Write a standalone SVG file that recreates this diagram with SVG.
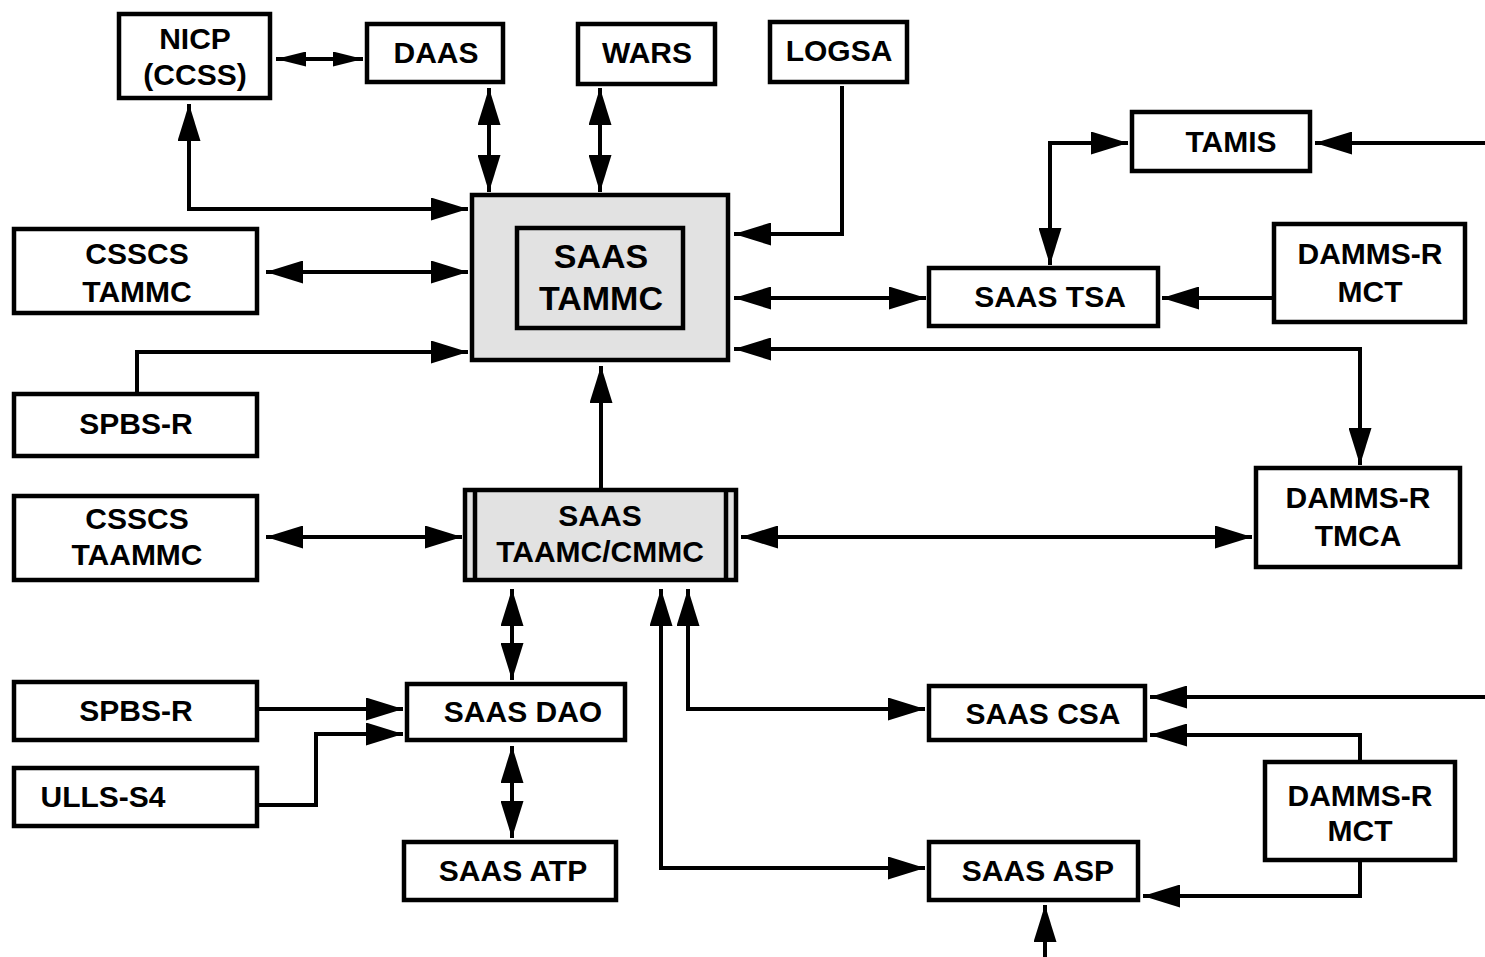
<svg xmlns="http://www.w3.org/2000/svg" width="1485" height="957" viewBox="0 0 1485 957">
<defs>
<style>
.box{fill:#fff;stroke:#000;stroke-width:4.5}
.gbox{fill:#e2e2e2;stroke:#000;stroke-width:4.5}
.t{font-family:"Liberation Sans",Arial,sans-serif;font-weight:bold;font-size:30px;fill:#000;text-anchor:middle}
.big{font-size:34px}
.c{fill:none;stroke:#000;stroke-width:4}
.a{marker-end:url(#ah)}
.b{marker-start:url(#ah);marker-end:url(#ah)}
</style>
<marker id="ah" markerUnits="userSpaceOnUse" markerWidth="37" markerHeight="23" refX="37" refY="11.5" orient="auto-start-reverse" viewBox="0 0 37 23">
<path d="M0,0 L37,11.5 L0,23 z" fill="#000"/>
</marker>
<marker id="ahs" markerUnits="userSpaceOnUse" markerWidth="30" markerHeight="15" refX="30" refY="7.5" orient="auto-start-reverse" viewBox="0 0 30 15">
<path d="M0,0 L30,7.5 L0,15 z" fill="#000"/>
</marker>
</defs>
<rect width="1485" height="957" fill="#fff"/>

<g id="connectors">
<path class="c" d="M276,59 L363,59" marker-start="url(#ahs)" marker-end="url(#ahs)"/>
<path class="c b" d="M489,88 L489,192"/>
<path class="c b" d="M600,88 L600,192"/>
<path class="c a" d="M842,86 L842,234 L734,234"/>
<path class="c b" d="M189,104 L189,209 L468,209"/>
<path class="c b" d="M266,272 L468,272"/>
<path class="c a" d="M137,392 L137,352 L468,352"/>
<path class="c b" d="M734,298 L926,298"/>
<path class="c b" d="M1128,143 L1050,143 L1050,265"/>
<path class="c a" d="M1485,143 L1315,143"/>
<path class="c a" d="M1272,298 L1162,298"/>
<path class="c b" d="M734,349 L1360,349 L1360,465"/>
<path class="c a" d="M601,488 L601,366"/>
<path class="c b" d="M266,537 L462,537"/>
<path class="c b" d="M741,537 L1252,537"/>
<path class="c b" d="M512,589 L512,680"/>
<path class="c a" d="M259,709 L403,709"/>
<path class="c a" d="M259,805 L316,805 L316,734 L403,734"/>
<path class="c b" d="M512,746 L512,838"/>
<path class="c b" d="M688,589 L688,709 L925,709"/>
<path class="c b" d="M661,589 L661,868 L925,868"/>
<path class="c a" d="M1485,697 L1150,697"/>
<path class="c a" d="M1360,760 L1360,735 L1150,735"/>
<path class="c a" d="M1360,862 L1360,896 L1143,896"/>
<path class="c a" d="M1045,957 L1045,905"/>
</g>

<g id="nicp"><rect class="box" x="119" y="14" width="151" height="84"/><text class="t" x="195" y="49">NICP</text><text class="t" x="195" y="85">(CCSS)</text></g>
<g id="daas"><rect class="box" x="367" y="24" width="136" height="58"/><text class="t" x="436" y="63">DAAS</text></g>
<g id="wars"><rect class="box" x="578" y="24" width="137" height="60"/><text class="t" x="647" y="63">WARS</text></g>
<g id="logsa"><rect class="box" x="770" y="22" width="137" height="60"/><text class="t" x="839" y="61">LOGSA</text></g>
<g id="tamis"><rect class="box" x="1132" y="112" width="178" height="59"/><text class="t" x="1231" y="152">TAMIS</text></g>
<g id="csscs-tammc"><rect class="box" x="14" y="229" width="243" height="84"/><text class="t" x="137" y="264">CSSCS</text><text class="t" x="137" y="302">TAMMC</text></g>
<g id="saas-tammc"><rect class="gbox" x="472" y="195" width="256" height="165"/><rect class="gbox" x="517" y="228" width="166" height="100"/><text class="t big" x="601" y="268">SAAS</text><text class="t big" x="601" y="310">TAMMC</text></g>
<g id="saas-tsa"><rect class="box" x="929" y="268" width="229" height="58"/><text class="t" x="1050" y="307">SAAS TSA</text></g>
<g id="damms-mct-top"><rect class="box" x="1274" y="224" width="191" height="98"/><text class="t" x="1370" y="264">DAMMS-R</text><text class="t" x="1370" y="302">MCT</text></g>
<g id="spbs-top"><rect class="box" x="14" y="394" width="243" height="62"/><text class="t" x="136" y="434">SPBS-R</text></g>
<g id="damms-tmca"><rect class="box" x="1256" y="468" width="204" height="99"/><text class="t" x="1358" y="508">DAMMS-R</text><text class="t" x="1358" y="546">TMCA</text></g>
<g id="csscs-taammc"><rect class="box" x="14" y="496" width="243" height="84"/><text class="t" x="137" y="529">CSSCS</text><text class="t" x="137" y="565">TAAMMC</text></g>
<g id="saas-taamc"><rect class="gbox" x="465" y="490" width="271" height="90"/><path d="M475,490 V580 M726,490 V580" stroke="#000" stroke-width="4.5"/><text class="t" x="600" y="526">SAAS</text><text class="t" x="600" y="562">TAAMC/CMMC</text></g>
<g id="spbs-bottom"><rect class="box" x="14" y="682" width="243" height="58"/><text class="t" x="136" y="721">SPBS-R</text></g>
<g id="saas-dao"><rect class="box" x="407" y="684" width="218" height="56"/><text class="t" x="523" y="722">SAAS DAO</text></g>
<g id="ulls"><rect class="box" x="14" y="768" width="243" height="58"/><text class="t" x="103" y="807">ULLS-S4</text></g>
<g id="saas-atp"><rect class="box" x="404" y="842" width="212" height="58"/><text class="t" x="513" y="881">SAAS ATP</text></g>
<g id="saas-csa"><rect class="box" x="929" y="686" width="216" height="54"/><text class="t" x="1043" y="724">SAAS CSA</text></g>
<g id="damms-mct-bottom"><rect class="box" x="1265" y="762" width="190" height="98"/><text class="t" x="1360" y="806">DAMMS-R</text><text class="t" x="1360" y="841">MCT</text></g>
<g id="saas-asp"><rect class="box" x="929" y="842" width="209" height="58"/><text class="t" x="1038" y="881">SAAS ASP</text></g>
</svg>
